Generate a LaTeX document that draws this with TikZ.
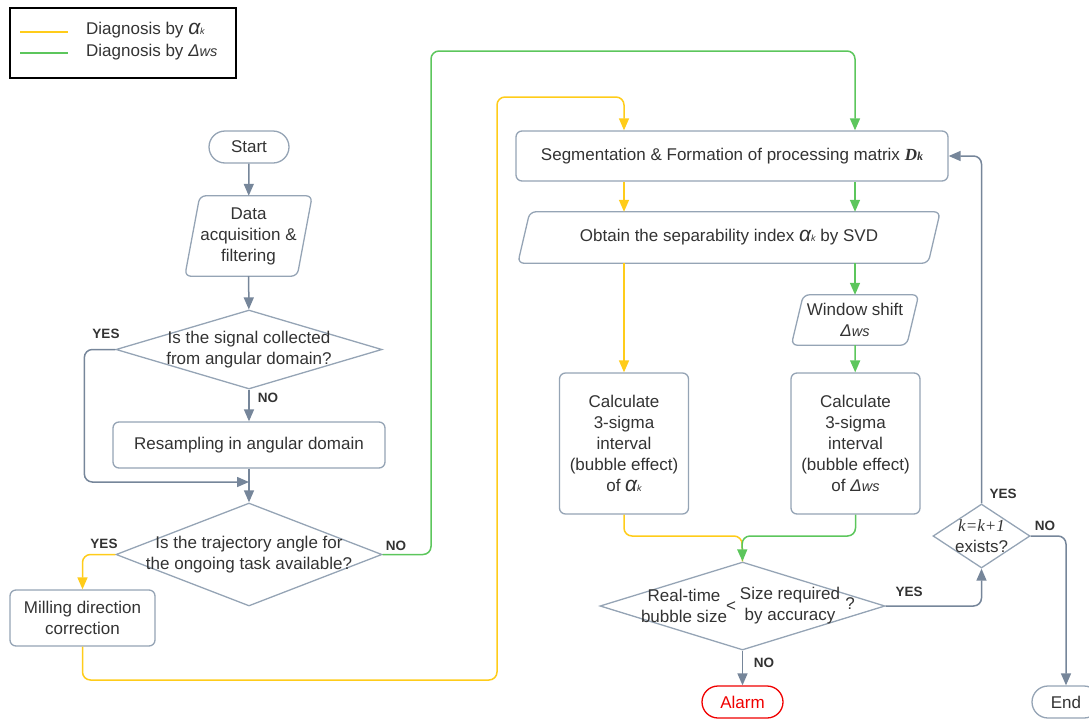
\documentclass[tikz,border=0pt]{standalone}
\usepackage{fontspec}
\setmainfont{Liberation Sans}
\newfontfamily\serifface{Liberation Serif}
\usetikzlibrary{arrows.meta,shapes.geometric}

\definecolor{shapeline}{HTML}{95A4B5}
\definecolor{arrowgray}{HTML}{76869A}
\definecolor{txt}{HTML}{333333}
\definecolor{yel}{HTML}{FFCC1A}
\definecolor{grn}{HTML}{5CC65C}
\definecolor{alarmred}{HTML}{F00000}

% symbols used in the labels
\newcommand\alphak{{\fontsize{21}{21}\selectfont\itshape α}{\fontsize{9}{9}\selectfont\itshape k}}
\newcommand\deltaws{{\itshape Δ{\fontsize{14.5}{14.5}\selectfont ws}}}
\newcommand\matD{{\serifface\bfseries\itshape D{\fontsize{12}{12}\selectfont k}}}
\newcommand\paraoutline[2]{%
  \draw[pshape] ([xshift=#2]#1.north west) -- (#1.north east)
    -- ([xshift=-#2]#1.south east) -- (#1.south west) -- cycle;}

\tikzset{
  base/.style={text=txt, align=center, inner sep=0pt,
    font=\fontsize{17}{21}\selectfont},
  box/.style={base, draw=shapeline, line width=1.3pt, rounded corners=6pt, fill=white},
  term/.style={base, draw=shapeline, line width=1.3pt, rounded corners=16pt,
    minimum height=32, fill=white},
  ptext/.style={base},
  pshape/.style={draw=shapeline, line width=1.3pt, rounded corners=6pt},
  dia/.style={shape=diamond, draw=shapeline, line width=1.3pt, inner sep=0pt},
  diatext/.style={base},
  flow/.style={draw=arrowgray, line width=1.5pt, rounded corners=8pt,
    -{Triangle[length=12pt,width=10pt]}},
  yflow/.style={flow, draw=yel, -{Triangle[length=12pt,width=10pt,fill=yel]}},
  gflow/.style={flow, draw=grn, -{Triangle[length=12pt,width=10pt,fill=grn]}},
  yline/.style={draw=yel, line width=1.5pt, rounded corners=8pt},
  lbl/.style={text=txt, inner sep=0pt, font=\fontsize{13.5}{13.5}\selectfont\bfseries},
}

\begin{document}
\begin{tikzpicture}[x=1pt, y=-1pt]
\useasboundingbox (0,0) rectangle (1089,718);

% legend
\node[draw=black, line width=1.3pt, minimum width=226, minimum height=70, inner sep=0pt] (legend) at (123,43) {};
\draw[yel, line width=1.5pt] (20,32) -- (68,32);
\draw[grn, line width=1.5pt] (20,53) -- (68,53);
\node[base, anchor=west, font=\fontsize{17}{17}\selectfont] (legy) at (86,30) {Diagnosis by \alphak};
\node[base, anchor=west, font=\fontsize{17}{17}\selectfont] (legg) at (86,52) {Diagnosis by \deltaws};

% left column
\node[term, minimum width=80] (start) at (249,147) {Start};
\node[ptext, minimum width=127, minimum height=80] (data) at (248.5,236) {Data\\acquisition \&\\filtering};
\paraoutline{data}{15}
\node[dia, minimum width=266, minimum height=79,
  label={[diatext, name=q1t]center:Is the signal collected\\from angular domain?}] (q1) at (249,349.5) {};
\node[box, minimum width=272, minimum height=46] (resamp) at (249,445) {Resampling in angular domain};
\coordinate (m1) at (249,482);
\node[dia, minimum width=266, minimum height=103,
  label={[diatext, name=q2t]center:Is the trajectory angle for\\the ongoing task available?}] (q2) at (249,554.5) {};
\node[box, minimum width=145, minimum height=56] (mill) at (82.5,618) {Milling direction\\correction};

% right part
\node[box, minimum width=432, minimum height=50] (seg) at (732,156) {Segmentation \& Formation of processing matrix \matD};
\node[ptext, minimum width=422, minimum height=51] (obt) at (729,237.5) {Obtain the separability index \alphak{} by SVD};
\paraoutline{obt}{12}
\node[ptext, minimum width=127, minimum height=50] (win) at (855,320) {Window shift\\\deltaws};
\paraoutline{win}{12}
\node[box, minimum width=129, minimum height=141] (calcA) at (624,443.5) {Calculate\\3-sigma\\interval\\(bubble effect)\\of \alphak};
\node[box, minimum width=129, minimum height=141] (calcB) at (855.5,443.5) {Calculate\\3-sigma\\interval\\(bubble effect)\\of \deltaws};
\coordinate (mg) at (742,536);
\node[dia, minimum width=285, minimum height=88] (q3) at (742.5,606) {};
\node[diatext] (q3a) at (684,605.5) {Real-time\\bubble size};
\node[diatext] (q3lt) at (731,607) {<};
\node[diatext] (q3b) at (790,605.5) {Size required\\by accuracy};
\node[diatext] (q3q) at (850,604) {?};
\node[term, draw=alarmred, text=alarmred, minimum width=81] (alarm) at (742.5,702) {Alarm};
\node[dia, minimum width=97, minimum height=64] (q4) at (981.5,536) {};
\node[diatext] (q4t) at (981.5,536) {{\serifface\itshape k=k+1}\\exists?};
\node[term, minimum width=68] (endn) at (1066,702) {End};

% grey connectors
\draw[flow] (start) -- (data);
\draw[flow] (data) -- (q1);
\draw[flow] (q1) -- (resamp);
\draw[flow] (q1.west) -- ++(-31,0) |- (m1);
\draw[flow] (resamp) -- (q2);
\draw[flow] (q3) -- (alarm);
\draw[flow] (q3.east) -| (q4.south);
\draw[flow] (q4.north) |- (seg.east);
\draw[flow] (q4.east) -| (endn.north);

% diagnosis by alpha_k (yellow)
\coordinate (ya) at (497,680);
\coordinate (yb) at (624,97);
\draw[yflow] (q2.west) -| (mill.north);
\draw[yflow] (mill.south) |- (ya) |- (yb) -- (yb |- seg.north);
\draw[yflow] (seg.south -| calcA) -- (obt.north -| calcA);
\draw[yflow] (obt.south -| calcA) -- (calcA.north);
\draw[yline] (calcA.south) |- (mg) -- (q3.north);

% diagnosis by Delta_ws (green)
\coordinate (ga) at (431,51);
\draw[gflow] (q2.east) -| (ga) -| (seg.north -| win);
\draw[gflow] (seg.south -| win) -- (obt.north -| win);
\draw[gflow] (obt.south -| win) -- (win.north);
\draw[gflow] (win) -- (calcB);
\draw[gflow] (calcB.south) |- (mg) -- (q3.north);

% branch labels
\node[lbl] (y1) at (106,334) {YES};
\node[lbl] (n1) at (268,398) {NO};
\node[lbl] (y2) at (104,544) {YES};
\node[lbl] (n2) at (396,545.5) {NO};
\node[lbl] (n3) at (764,663) {NO};
\node[lbl] (y3) at (909,592) {YES};
\node[lbl] (y4) at (1003,494) {YES};
\node[lbl] (n4) at (1045,526) {NO};
\end{tikzpicture}
\end{document}
